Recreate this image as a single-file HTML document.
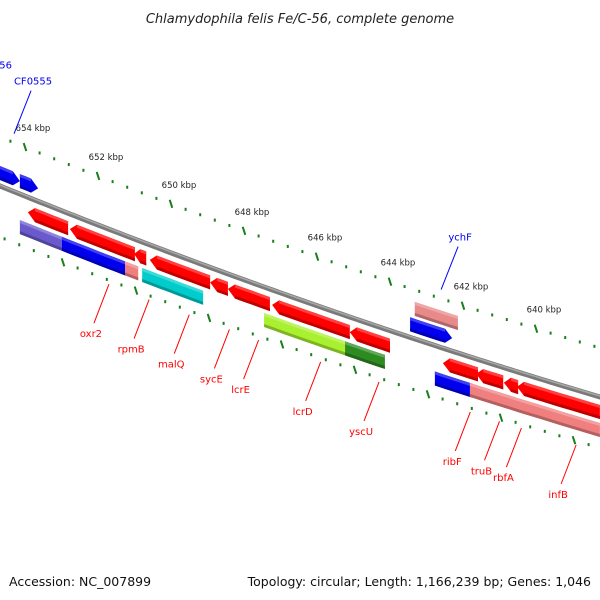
<!DOCTYPE html>
<html><head><meta charset="utf-8">
<style>
html,body{margin:0;padding:0;background:#fff;}
svg{display:block;font-family:"DejaVu Sans","Liberation Sans",sans-serif;}
</style></head>
<body>
<svg id="map" width="600" height="600" viewBox="0 0 600 600">
<text x="300" y="23" text-anchor="middle" font-size="13" font-style="italic" fill="#222">Chlamydophila felis Fe/C-56, complete genome</text>
<text x="9" y="586" font-size="12.5" fill="#111">Accession: NC_007899</text>
<text x="591" y="586" text-anchor="end" font-size="12.5" fill="#111">Topology: circular; Length: 1,166,239 bp; Genes: 1,046</text>
<g id="g-ticks"></g>
<g id="g-back"></g>
<g id="g-genes"></g>
<g id="g-labels"></g>
</svg>
<script>
// gene data (kbp coordinates)
const geneStart = [654.82,654.14,643.32,643.45, 653.92,652.77,651.01,650.58,648.93,648.44,647.23,645.10,642.55,641.64,640.88,640.52, 654.14,652.99,651.26,650.79,647.45,645.23,642.77,641.81];
const geneEnd   = [654.14,653.64,642.14,642.30, 652.82,650.99,650.68,648.93,648.44,647.29,645.10,644.00,641.59,640.90,640.49,638.25, 652.99,651.26,650.90,649.12,644.19,644.14,641.75,638.25];
const geneRow   = ["u1","u1","u2","u1", "r1","r1","r1","r1","r1","r1","r1","r1","r1","r1","r1","r1", "r2","r2","r2","r2","r2","r2","r2","r2"];
const geneDir   = [1,1,0,1, -1,-1,-1,-1,-1,-1,-1,-1,-1,-1,-1,-1, 0,0,0,0,0,0,0,0];
const geneColor = ["#0000ee","#0000ee","#e88a8a","#0000ee", "#ff0000","#ff0000","#ff0000","#ff0000","#ff0000","#ff0000","#ff0000","#ff0000","#ff0000","#ff0000","#ff0000","#ff0000", "#6a5acd","#0000ee","#f08080","#00cccc","#a8f030","#2e8b22","#0000ee","#f08080"];
// tick labels
const tickKbp = [654,652,650,648,646,644,642,640];
const tickLabels = ["654 kbp","652 kbp","650 kbp","648 kbp","646 kbp","644 kbp","642 kbp","640 kbp"];
// gene labels
const labelNames = ["oxr2","rpmB","malQ","sycE","lcrE","lcrD","yscU","ribF","truB","rbfA","infB","CF0556","CF0555","ychF"];
const labelKbp   = [651.7,650.6,649.5,648.4,647.6,645.9,644.3,641.8,641.0,640.4,638.9,655.4,654.3,642.6];
const labelColor = ["red","red","red","red","red","red","red","red","red","red","red","blue","blue","blue"];
const labelSide  = [1,1,1,1,1,1,1,1,1,1,1,-1,-1,-1];

const NS="http://www.w3.org/2000/svg";
function xOf(k){return 98+(652-k)*36.5;}
function by(x){const t=x/600;return (1-t)*(1-t)*186+2*t*(1-t)*308+t*t*397;}
const rowOff={u2:-30,u1:-13,r1:15,r2:33};
function mk(tag,attrs,parent){const e=document.createElementNS(NS,tag);for(const k in attrs)e.setAttribute(k,attrs[k]);parent.appendChild(e);return e;}

// backbone
const gb=document.getElementById('g-back');
let d="M-5 "+by(-5);for(let x=0;x<=605;x+=5)d+=" L"+x+" "+by(x).toFixed(2);
const bb1=mk('path',{d:d,fill:"none",stroke:"#7a7a7a","stroke-width":5},gb);


const bb2=mk('path',{d:d,fill:"none",stroke:"#a8a8a8","stroke-width":1.5,transform:"translate(0,-1)"},gb);



// ticks
const gt=document.getElementById('g-ticks');
function ring(off,x0,step,phase){
  for(let i=-2;i<60;i++){
    const x=x0+i*step/5;
    if(x<-5||x>605)continue;
    const y=by(x)+off;
    if(((i%5)+5)%5===0){
      const l=mk('line',{x1:x-1.3,y1:y-4,x2:x+1.3,y2:y+4,stroke:"#1a7f1a","stroke-width":2},gt);
      
      
    }else{
      const r=mk('rect',{x:x-1,y:y-1.5,width:2,height:3,fill:"#1a7f1a"},gt);
      
      
    }
  }
}
ring(-49,xOf(654),73,0);
ring(51,63-73,73,0);
for(let i=0;i<tickKbp.length;i++){
  const x=xOf(tickKbp[i]);
  const t=mk('text',{x:x+8,y:by(x)-49-16,"text-anchor":"middle","font-size":"8.5",fill:"#222"},gt);
  t.textContent=tickLabels[i];
  
  
}

// genes
const gg=document.getElementById('g-genes');
function shade(c,f){const n=parseInt(c.slice(1),16);let r=(n>>16)&255,g=(n>>8)&255,b=n&255;
  if(f<1){r*=f;g*=f;b*=f;}else{r+=(255-r)*(f-1);g+=(255-g)*(f-1);b+=(255-b)*(f-1);}
  return "rgb("+Math.round(r)+","+Math.round(g)+","+Math.round(b)+")";}
for(let i=0;i<geneStart.length;i++){
  const xa=xOf(geneStart[i]),xb=xOf(geneEnd[i]);
  const off=rowOff[geneRow[i]],h=14,dir=geneDir[i];
  const L=Math.min(xa,xb),R=Math.max(xa,xb);
  const ah=Math.min(7,(R-L)*0.5);
  const Ls=dir===-1?L+ah:L, Rs=dir===1?R-ah:R;
  const top=[],bot=[];
  const n=Math.max(2,Math.ceil((Rs-Ls)/10));
  for(let j=0;j<=n;j++){const x=Ls+(Rs-Ls)*j/n;top.push([x,by(x)+off-h/2]);bot.push([x,by(x)+off+h/2]);}
  let pts=[];
  if(dir===-1)pts.push([L,by(L)+off]);
  pts=pts.concat(top);
  if(dir===1)pts.push([R,by(R)+off]);
  pts=pts.concat(bot.reverse());
  const p=mk('polygon',{points:pts.map(q=>q[0].toFixed(1)+","+q[1].toFixed(1)).join(" "),fill:geneColor[i]},gg);
  
  
  // lower dark band
  const b1=[],b2=[];
  for(let j=0;j<=n;j++){const x=Ls+(Rs-Ls)*j/n;b1.push([x,by(x)+off+h/2-3]);b2.push([x,by(x)+off+h/2]);}
  const bp=b1.concat(b2.reverse());
  const s=mk('polygon',{points:bp.map(q=>q[0].toFixed(1)+","+q[1].toFixed(1)).join(" "),fill:shade(geneColor[i],0.75)},gg);
  
  
  const c1=[],c2=[];
  for(let j=0;j<=n;j++){const x=Ls+(Rs-Ls)*j/n;c1.push([x,by(x)+off-h/2]);c2.push([x,by(x)+off-h/2+3]);}
  const cp=c1.concat(c2.reverse());
  const hl=mk('polygon',{points:cp.map(q=>q[0].toFixed(1)+","+q[1].toFixed(1)).join(" "),fill:shade(geneColor[i],1.25)},gg);
  
  
}

// labels
const gl=document.getElementById('g-labels');
for(let i=0;i<labelNames.length;i++){
  const x=xOf(labelKbp[i]);
  let x1,y1,x2,y2,tx,ty;
  if(labelSide[i]===1){
    y1=by(x)+55;x1=x;x2=x-15;y2=y1+39;tx=x2-3;ty=y2+14;
  }else{
    y1=by(x)-58;x1=x;x2=x+17;y2=y1-43;tx=x2+2;ty=y2-6;
  }
  const l=mk('line',{x1:x1,y1:y1,x2:x2,y2:y2,stroke:labelColor[i],"stroke-width":1},gl);
  
  
  const t=mk('text',{x:tx,y:ty,"text-anchor":"middle","font-size":"10",fill:labelColor[i]==="red"?"#ff0000":"#0000ee"},gl);
  t.textContent=labelNames[i];
  
  
}
</script>
</body></html>
